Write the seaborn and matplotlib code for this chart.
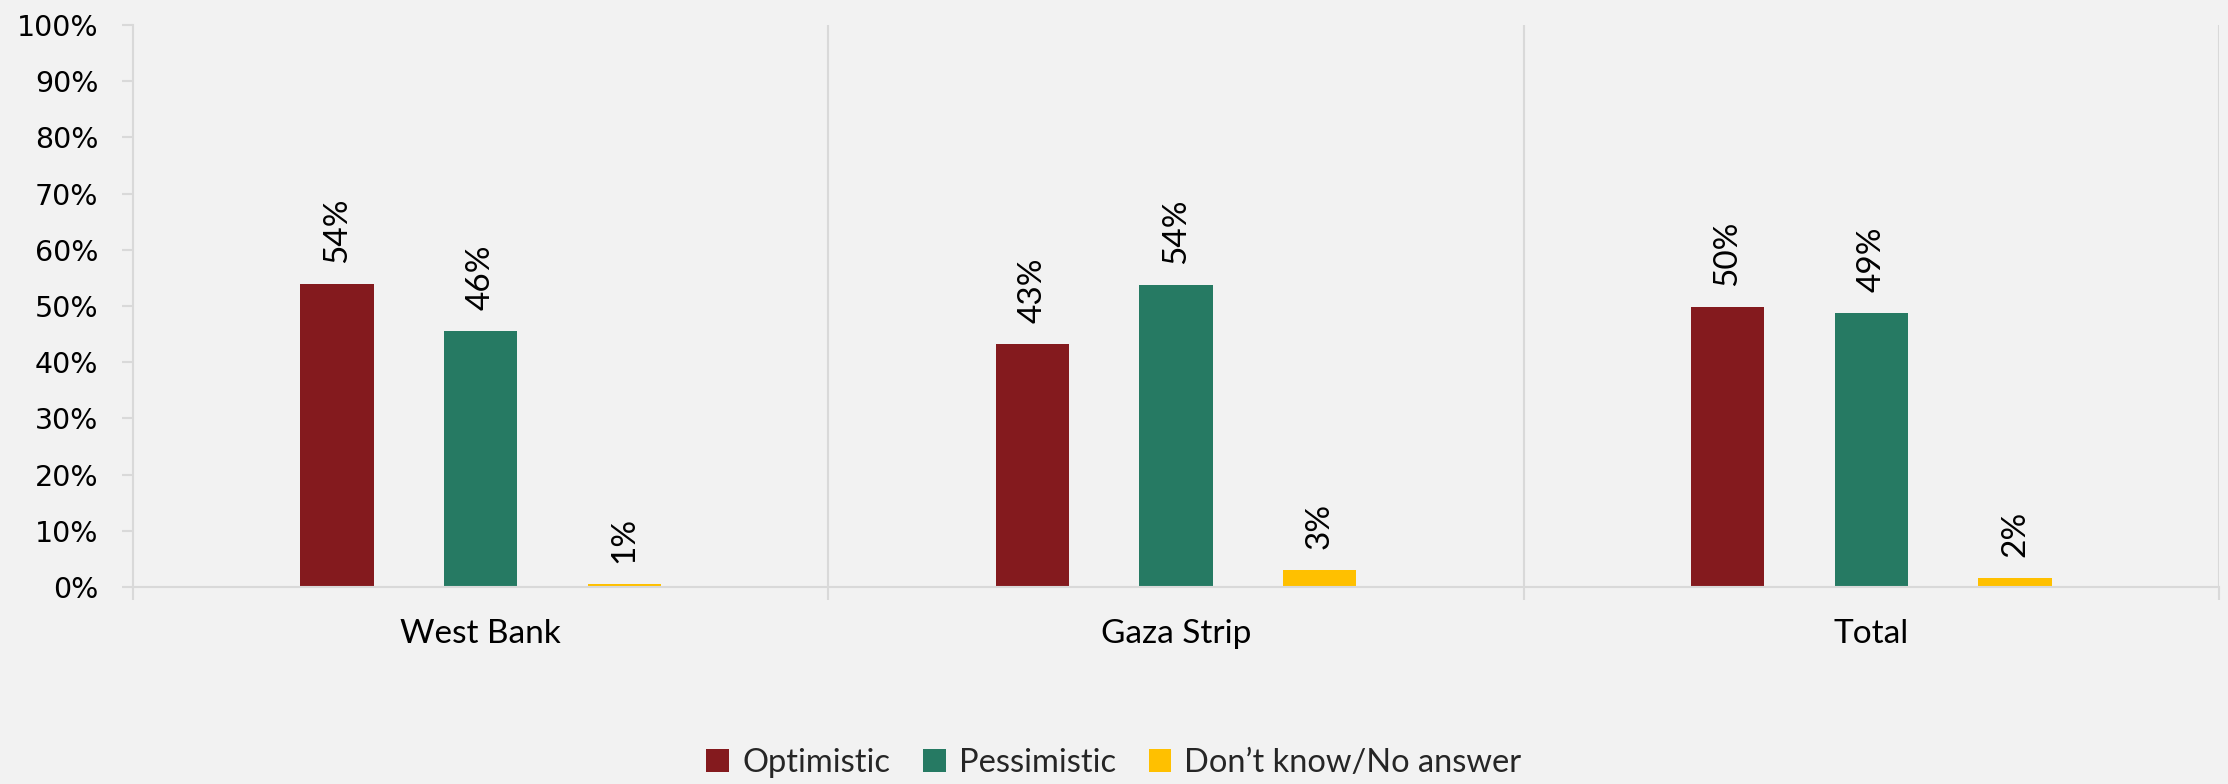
import numpy as np
import pandas as pd
import matplotlib
matplotlib.use("Agg")
import matplotlib.pyplot as plt
import seaborn as sns
from matplotlib.ticker import FixedLocator

categories = ["West Bank", "Gaza Strip", "Total"]
series = ["Optimistic", "Pessimistic", "Don’t know/No answer"]
optimistic = [53.9, 43.2, 49.8]
pessimistic = [45.6, 53.7, 48.8]
dont_know = [0.6, 3.1, 1.6]
colors = ["#841A1E", "#267A63", "#FFC000"]
yticks = list(range(0, 101, 10))
ytick_labels = [f"{t}%" for t in yticks]

rows = []
for s, vals in zip(series, [optimistic, pessimistic, dont_know]):
    for c, v in zip(categories, vals):
        rows.append({"Region": c, "Response": s, "Value": v})
df = pd.DataFrame(rows)

sns.set_theme(style="white")
plt.rcParams["font.family"] = ["Lato", "DejaVu Sans"]
bg = "#F2F2F2"
grid = "#D9D9D9"

W, H = 2228, 784
fig = plt.figure(figsize=(W / 100, H / 100), dpi=100, facecolor=bg)
ax = fig.add_axes([133 / W, (H - 587) / H, (2219 - 133) / W, (587 - 25) / H])
ax.set_facecolor(bg)

sns.barplot(data=df, x="Region", y="Value", hue="Response", order=categories,
            hue_order=series, palette=colors, saturation=1, width=0.62, gap=0.49,
            ax=ax, edgecolor="none", linewidth=0, errorbar=None)

ax.set_xlim(-0.5, 2.5)
ax.set_ylim(0, 100)
ax.set_xlabel("")
ax.set_ylabel("")

for sp in ["top", "right"]:
    ax.spines[sp].set_visible(False)
for sp in ["left", "bottom"]:
    ax.spines[sp].set_color(grid)
    ax.spines[sp].set_linewidth(1.5)

for xv in [0.5, 1.5, 2.5]:
    ax.axvline(xv, color=grid, linewidth=1.5, zorder=0)

ax.set_yticks(yticks)
ax.set_yticklabels(ytick_labels, fontfamily="DejaVu Sans", fontsize=20.5, color="black")
ax.tick_params(axis="y", which="major", length=8, width=1.5, color=grid, pad=17, direction="out", left=True)

ax.set_xticks(range(len(categories)))
ax.set_xticklabels(categories, fontsize=24, color="black")
ax.xaxis.set_minor_locator(FixedLocator([-0.5, 0.5, 1.5, 2.5]))
ax.tick_params(axis="x", which="major", length=0, pad=23, bottom=True)
ax.tick_params(axis="x", which="minor", length=9, width=1.5, color=grid, direction="out", bottom=True)

for cont, vals in zip(ax.containers, [optimistic, pessimistic, dont_know]):
    ax.bar_label(cont, labels=[f"{round(v)}%" for v in vals], rotation=90,
                 padding=15, fontsize=24, color="black")

handles, labels = ax.get_legend_handles_labels()
if ax.get_legend() is not None:
    ax.get_legend().remove()
fig.legend(handles, labels, loc="center", bbox_to_anchor=(0.5, 21 / H), ncol=3,
           frameon=False, fontsize=23.5, handlelength=0.7, handleheight=0.7,
           handletextpad=0.4, columnspacing=1.0)

fig.savefig("out.png", dpi=100, facecolor=bg)
